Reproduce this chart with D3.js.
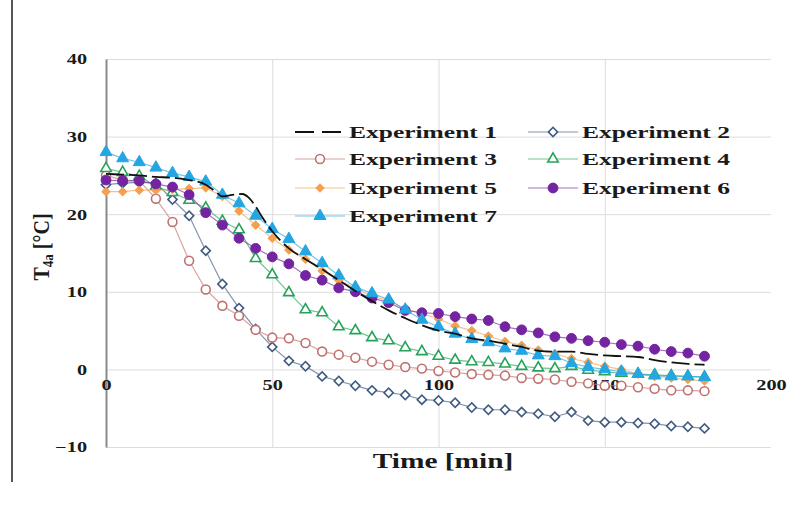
<!DOCTYPE html>
<html>
<head>
<meta charset="utf-8">
<script src="https://cdnjs.cloudflare.com/ajax/libs/d3/7.8.5/d3.min.js"></script>
<style>
  body { margin: 0; background: #fff; }
  text { font-family: "Liberation Serif", "Times New Roman", serif; font-weight: bold; fill: #1a1a1a; }
</style>
</head>
<body>
<div id="chart"></div>
<script>
// time axis (min) for the marker series
var times = [0,5,10,15,20,25,30,35,40,45,50,55,60,65,70,75,80,85,90,95,100,105,110,115,120,125,130,135,140,145,150,155,160,165,170,175,180];

// Experiment 1 is a continuous trace, logged a bit denser
var exp1Time = [0,5,10,15,20,25,30,33,35,38,41,43,45,47,50,55,60,65,70,75,80,85,90,95,100,105,110,115,120,125,130,135,140,145,150,155,160,165,170,175,180];
var exp1 = [25.2,25.1,25.0,24.8,24.7,24.4,23.8,22.9,22.3,22.5,22.6,22.1,21.0,19.6,17.8,15.6,14.2,12.9,11.5,10.1,8.8,7.6,6.6,5.7,5.0,4.6,4.0,3.7,3.3,2.9,2.4,2.3,2.3,2.0,1.8,1.7,1.6,1.2,0.9,0.7,0.6];

var exp2 = [23.8,24.0,24.1,24.0,21.9,19.8,15.3,11.0,7.9,5.2,2.9,1.1,0.4,-0.9,-1.5,-2.1,-2.7,-3.0,-3.3,-3.9,-4.0,-4.3,-4.9,-5.2,-5.2,-5.5,-5.7,-6.1,-5.5,-6.6,-6.8,-6.8,-6.9,-7.0,-7.3,-7.4,-7.6];
var exp3 = [25.0,24.4,24.3,22.0,19.0,14.0,10.3,8.2,6.9,5.1,4.1,4.0,3.4,2.3,1.9,1.5,1.0,0.6,0.3,0.1,-0.2,-0.4,-0.6,-0.7,-0.8,-1.1,-1.2,-1.3,-1.6,-1.8,-2.1,-2.1,-2.3,-2.5,-2.7,-2.7,-2.8];
var exp4 = [25.9,25.4,24.9,23.6,22.8,21.8,20.8,19.1,18.0,14.3,12.2,9.9,7.7,7.3,5.5,5.0,4.1,3.7,2.8,2.3,1.7,1.2,1.0,0.9,0.7,0.4,0.2,0.1,0.4,-0.1,-0.3,-0.5,-0.6,-0.7,-0.8,-0.9,-1.0];
var exp5 = [22.9,22.9,23.1,23.1,23.2,23.3,23.4,22.3,20.4,18.6,16.9,15.4,14.2,12.7,11.5,10.5,9.4,8.9,7.8,7.2,6.5,5.6,5.0,4.3,3.6,3.1,2.5,2.0,1.4,0.9,0.4,0.0,-0.6,-0.9,-1.1,-1.3,-1.5];
var exp6 = [24.4,24.3,24.3,23.9,23.5,22.5,20.2,18.6,16.9,15.6,14.5,13.6,12.1,11.5,10.5,10.0,9.2,8.6,7.6,7.3,7.2,6.8,6.5,6.3,5.5,5.1,4.7,4.2,4.0,3.7,3.5,3.2,3.0,2.6,2.3,2.1,1.7];
var exp7 = [28.0,27.2,26.7,26.0,25.3,24.8,24.2,22.5,21.4,19.8,18.1,16.8,15.2,13.7,12.1,10.6,9.8,9.0,7.7,6.4,5.5,4.6,3.9,3.5,2.7,2.4,1.8,1.7,0.8,0.3,0.0,-0.3,-0.6,-0.8,-0.9,-0.9,-1.0];

var seriesNames = ["Experiment 1","Experiment 2","Experiment 3","Experiment 4","Experiment 5","Experiment 6","Experiment 7"];
var xTicks = [0,50,100,150,200];
var yTicks = [-10,0,10,20,30,40];

(function(){
    var width = 806,
        height = 506;

    // the source picture is stretched sideways, so text gets a sx factor
    var sx = 1.45;

    var svg = d3.select("#chart")
      .append("svg")
      .attr("width", width)
      .attr("height", height)

    var x = d3.scaleLinear().domain([0,200]).range([106,771])
    var y = d3.scaleLinear().domain([-10,40]).range([447,59])

    // frame line at the far left of the figure
    svg.append("line")
      .attr("x1",12).attr("x2",12).attr("y1",0).attr("y2",482)
      .attr("stroke","#555").attr("stroke-width",2)

    // gridlines
    svg.append("g")
      .attr("transform","translate(0,"+y(-10)+")")
      .call(d3.axisBottom(x).tickValues([50,100,150]).tickSize(-(y(-10)-y(40))).tickFormat(""))
      .call(function(g){ g.select(".domain").remove() })
      .selectAll("line").attr("stroke","#dcdcdc")

    svg.append("g")
      .attr("transform","translate("+x(0)+",0)")
      .call(d3.axisLeft(y).tickValues(yTicks).tickSize(-(x(200)-x(0))).tickFormat(""))
      .call(function(g){ g.select(".domain").remove() })
      .selectAll("line").attr("stroke","#dcdcdc")

    // y axis
    var yAxis = svg.append("g")
      .attr("transform","translate("+x(0)+",0)")
      .call(d3.axisLeft(y).tickValues(yTicks).tickSize(0).tickPadding(13))
    yAxis.select(".domain").attr("stroke","#8a8a8a").attr("stroke-width",2)
    yAxis.selectAll("text")
      .attr("font-size",14)
      .attr("font-family",null)
      .attr("dy","0.35em")
      .attr("transform","scale("+sx+",1)")

    // x axis labels sit on the zero line
    var xAxis = svg.append("g")
      .attr("transform","translate(0,"+y(0)+")")
      .call(d3.axisBottom(x).tickValues(xTicks).tickSize(0).tickPadding(11))
    xAxis.select(".domain").remove()
    xAxis.selectAll("text")
      .attr("font-size",14)
      .attr("font-family",null)
      .attr("transform","scale("+sx+",1)")

    // axis titles
    var yt = svg.append("text")
      .attr("transform","translate(49,247) scale(1.2,1) rotate(-90)")
      .attr("text-anchor","middle")
      .attr("font-size",20)
    yt.append("tspan").text("T")
    yt.append("tspan").attr("font-size",13).attr("dy",3).text("4a")
    yt.append("tspan").attr("dy",-3).text(" [°C]")

    svg.append("text")
      .attr("transform","translate(443,468) scale(1.4,1)")
      .attr("text-anchor","middle")
      .attr("font-size",21)
      .text("Time [min]")

    // series styles
    var styles = [
      {color:"#111", dash:"18,5", symbol:null},
      {color:"#3f5a80", symbol:"diamond", size:42, fill:false},
      {color:"#c0716f", symbol:d3.symbolCircle, size:62, fill:false},
      {color:"#25a35a", symbol:d3.symbolTriangle, size:48, fill:false},
      {color:"#f5a04e", symbol:"diamond", size:34, fill:true},
      {color:"#7424a0", symbol:d3.symbolCircle, size:76, fill:true},
      {color:"#24a6e2", symbol:d3.symbolTriangle, size:62, fill:true}
    ]
    var markerData = [null, exp2, exp3, exp4, exp5, exp6, exp7]

    var line = d3.line()
      .x(function(d){ return x(d[0]) })
      .y(function(d){ return y(d[1]) })

    function drawMarker(g, st){
      var type = st.symbol === "diamond" ? d3.symbolSquare : st.symbol
      return g.append("path")
        .attr("d", d3.symbol().type(type).size(st.size)())
        .attr("fill", st.fill ? st.color : "#fff")
        .attr("stroke", st.color)
        .attr("stroke-width", st.fill ? 1 : 1.6)
    }

    // draw the marker series
    for (var i = 1; i < 7; i++) {
      var st = styles[i]
      var pts = times.map(function(t,j){ return [t, markerData[i][j]] })
      svg.append("path")
        .datum(pts)
        .attr("d", line)
        .attr("fill","none")
        .attr("stroke", st.color)
        .attr("stroke-opacity",0.65)
        .attr("stroke-width",1.2)
      var mg = svg.append("g")
      pts.forEach(function(d){
        var rot = st.symbol === "diamond" ? " rotate(45)" : ""
        var g = mg.append("g")
          .attr("transform","translate("+x(d[0])+","+y(d[1])+")"+rot)
        drawMarker(g, st)
      })
    }

    // Experiment 1 on top
    svg.append("path")
      .datum(exp1Time.map(function(t,j){ return [t, exp1[j]] }))
      .attr("d", line.curve(d3.curveMonotoneX))
      .attr("fill","none")
      .attr("stroke","#111")
      .attr("stroke-width",1.8)
      .attr("stroke-dasharray", styles[0].dash)

    // legend, two columns
    var legRows = [132,159,188,216],
        legCols = [295,528]
    seriesNames.forEach(function(name,i){
      var lx = legCols[i%2], ly = legRows[Math.floor(i/2)]
      var st = styles[i]
      var lg = svg.append("g").attr("transform","translate("+lx+","+ly+")")
      if (i === 0) {
        lg.append("line").attr("x1",0).attr("x2",50).attr("y1",0).attr("y2",0)
          .attr("stroke","#111").attr("stroke-width",1.8).attr("stroke-dasharray","19,8")
      } else {
        lg.append("line").attr("x1",0).attr("x2",50).attr("y1",0).attr("y2",0)
          .attr("stroke",st.color).attr("stroke-opacity",0.65).attr("stroke-width",1.2)
        var mk = lg.append("g").attr("transform","translate(25,0)"+(st.symbol==="diamond"?" rotate(45)":""))
        drawMarker(mk, st)
      }
      lg.append("text")
        .attr("transform","translate(54,6) scale(1.5,1)")
        .attr("font-size",17)
        .text(name)
    })
})();
</script>
</body>
</html>
